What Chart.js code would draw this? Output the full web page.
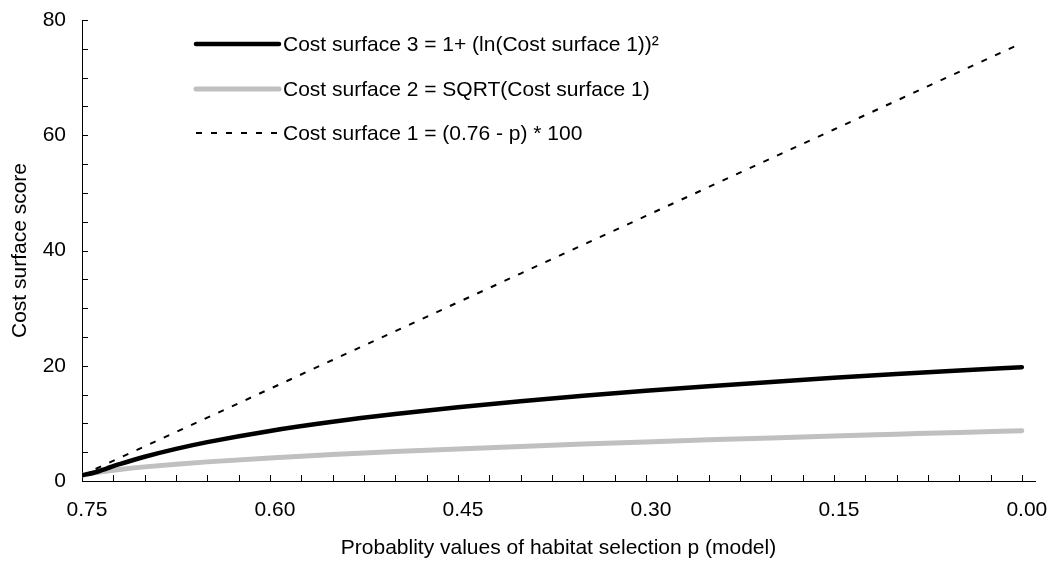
<!DOCTYPE html>
<html lang="en">
<head>
    <meta charset="UTF-8">
    <title>Cost surface scores</title>
    <script src="https://cdn.jsdelivr.net/npm/chart.js"></script>
    <style>
        html, body { margin: 0; padding: 0; background: #fff; }
        canvas { display: block; }
    </style>
</head>
<body>
    <canvas id="costChart" width="1054" height="565"></canvas>

    <script>
        // habitat selection probability p (x values)
        const pValues = [0.75, 0.74, 0.73, 0.72, 0.70, 0.675, 0.65, 0.60, 0.55, 0.50,
                         0.45, 0.40, 0.35, 0.30, 0.25, 0.20, 0.15, 0.10, 0.05, 0.00];
        // cost surface 1 = (0.76 - p) * 100
        const surface1 = [1, 2, 3, 4, 6, 8.5, 11, 16, 21, 26,
                          31, 36, 41, 46, 51, 56, 61, 66, 71, 76];
        // cost surface 2 = sqrt(surface 1)
        const surface2 = [1, 1.41, 1.73, 2, 2.45, 2.92, 3.32, 4, 4.58, 5.10,
                          5.57, 6, 6.40, 6.78, 7.14, 7.48, 7.81, 8.12, 8.43, 8.72];
        // cost surface 3 = 1 + ln(surface 1)^2
        const surface3 = [1, 1.48, 2.21, 2.92, 4.21, 5.58, 6.75, 8.69, 10.27, 11.61,
                          12.79, 13.84, 14.79, 15.66, 16.46, 17.20, 17.90, 18.55, 19.17, 19.75];

        const seriesLabels = [
            'Cost surface 3 = 1+ (ln(Cost surface 1))\u00b2',
            'Cost surface 2 = SQRT(Cost surface 1)',
            'Cost surface 1 = (0.76 - p) * 100'
        ];
        const xTickValues = [];
        for (let i = 30; i >= 0; i--) xTickValues.push(i * 0.025);

        const FONT = "'Liberation Sans', Arial, sans-serif";
        const FS = 21;

        function toPoints(ys) {
            return pValues.map((p, i) => ({ x: p, y: ys[i] }));
        }

        // tick marks drawn on the inner side of both axes
        const innerTicks = {
            id: 'innerTicks',
            afterDraw(chart) {
                const c = chart.ctx, xs = chart.scales.x, ys = chart.scales.y;
                c.save();
                c.strokeStyle = '#000';
                c.lineWidth = 1;
                c.beginPath();
                xs.ticks.forEach(t => {
                    if (t.value === 0.75) return;
                    const px = Math.round(xs.getPixelForValue(t.value)) + 0.5;
                    c.moveTo(px, ys.bottom);
                    c.lineTo(px, ys.bottom - 6);
                });
                ys.ticks.forEach(t => {
                    if (t.value === 0) return;
                    const py = Math.round(ys.getPixelForValue(t.value)) + 0.5;
                    c.moveTo(xs.left, py);
                    c.lineTo(xs.left + 6, py);
                });
                c.stroke();
                c.restore();
            }
        };

        // legend inside the plot, upper left
        const innerLegend = {
            id: 'innerLegend',
            afterDraw(chart) {
                const c = chart.ctx;
                const x0 = 196, x1 = 279, tx = 283;
                const rows = [44, 89, 133];
                c.save();
                c.font = FS + 'px ' + FONT;
                c.textBaseline = 'middle';
                c.fillStyle = '#000';
                chart.data.datasets.forEach((ds, i) => {
                    c.beginPath();
                    c.strokeStyle = ds.borderColor;
                    c.lineWidth = ds.borderWidth;
                    c.lineCap = ds.borderDash ? 'butt' : 'round';
                    c.setLineDash(ds.borderDash || []);
                    c.moveTo(x0, rows[i]);
                    c.lineTo(x1, rows[i]);
                    c.stroke();
                    c.setLineDash([]);
                    c.fillText(ds.label, tx, rows[i] + 1);
                });
                c.restore();
            }
        };

        const ctx = document.getElementById('costChart').getContext('2d');
        new Chart(ctx, {
            type: 'line',
            data: {
                datasets: [
                    {
                        label: seriesLabels[0],
                        data: toPoints(surface3),
                        borderColor: '#000000',
                        borderWidth: 4.5,
                        borderCapStyle: 'round',
                        pointRadius: 0,
                        cubicInterpolationMode: 'monotone'
                    },
                    {
                        label: seriesLabels[1],
                        data: toPoints(surface2),
                        borderColor: '#c0c0c0',
                        borderWidth: 5,
                        borderCapStyle: 'round',
                        pointRadius: 0,
                        cubicInterpolationMode: 'monotone'
                    },
                    {
                        label: seriesLabels[2],
                        data: toPoints(surface1),
                        borderColor: '#000000',
                        borderWidth: 2,
                        borderDash: [6, 9],
                        pointRadius: 0
                    }
                ]
            },
            options: {
                responsive: false,
                animation: false,
                layout: { padding: { top: 20, right: 19, bottom: 0, left: 0 } },
                plugins: {
                    legend: { display: false },
                    tooltip: { enabled: false }
                },
                scales: {
                    x: {
                        type: 'linear',
                        reverse: true,
                        min: -0.0105,
                        max: 0.75,
                        afterBuildTicks: s => { s.ticks = xTickValues.map(v => ({ value: v })); },
                        afterFit: s => {
                            s.height = 84;
                            s.paddingLeft = 0;
                            s.paddingRight = 0;
                        },
                        ticks: {
                            autoSkip: false,
                            maxRotation: 0,
                            padding: 17,
                            labelOffset: 5,
                            color: '#000',
                            font: { family: FONT, size: FS },
                            callback: (v, i) => (i % 6 === 0 ? v.toFixed(2) : '')
                        },
                        grid: { drawOnChartArea: false, drawTicks: false },
                        border: { color: '#000', width: 1 },
                        title: {
                            display: true,
                            text: 'Probablity values of habitat selection p (model)',
                            color: '#000',
                            font: { family: FONT, size: FS },
                            padding: { top: 0, bottom: 4 }
                        }
                    },
                    y: {
                        min: 0,
                        max: 80,
                        ticks: {
                            stepSize: 5,
                            padding: 16,
                            color: '#000',
                            font: { family: FONT, size: FS },
                            callback: v => (v % 20 === 0 ? v : '')
                        },
                        afterFit: s => {
                            s.width = 82;
                            s.paddingTop = 0;
                            s.paddingBottom = 0;
                        },
                        grid: { drawOnChartArea: false, drawTicks: false },
                        border: { color: '#000', width: 1 },
                        title: {
                            display: true,
                            text: 'Cost surface score',
                            color: '#000',
                            font: { family: FONT, size: FS },
                            padding: { top: 8, bottom: 0 }
                        }
                    }
                }
            },
            plugins: [innerTicks, innerLegend]
        });
    </script>
</body>
</html>
